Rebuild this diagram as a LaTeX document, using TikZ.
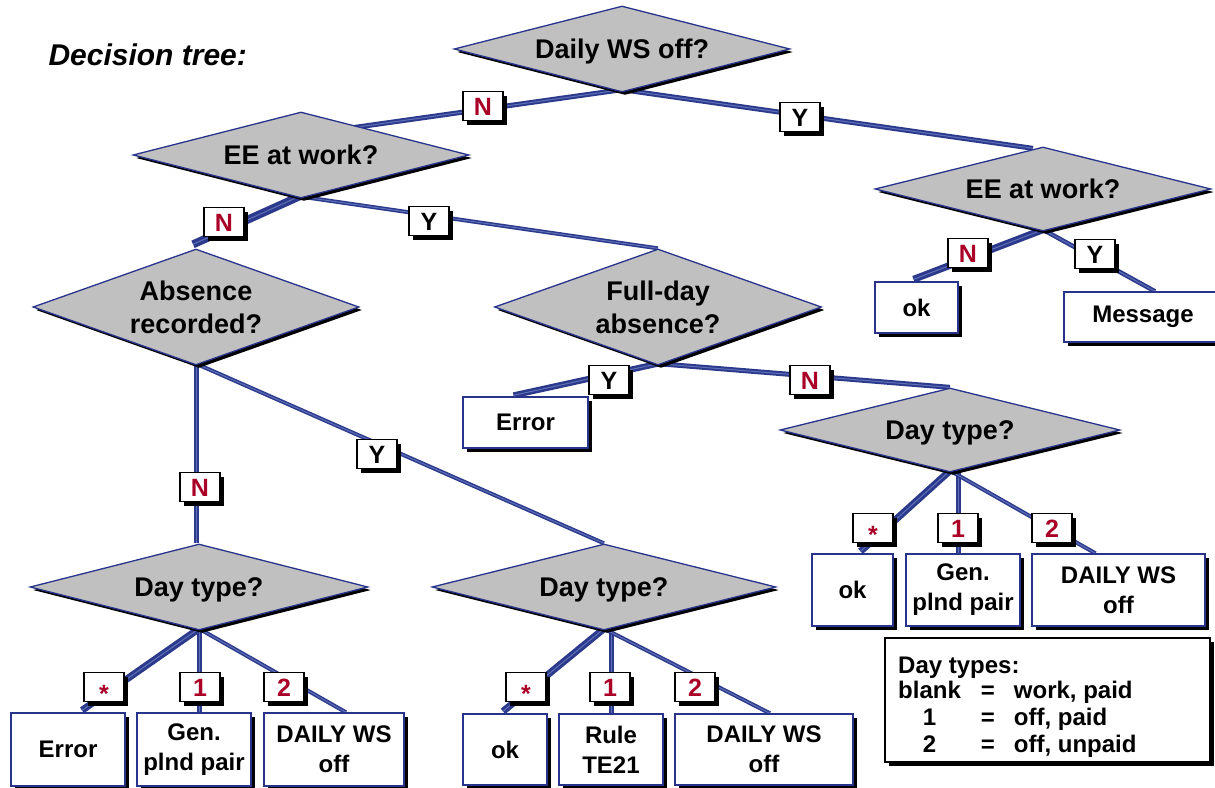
\documentclass[tikz,border=0pt]{standalone}
\usepackage{fontspec}
\setmainfont{Liberation Sans}
\usetikzlibrary{shapes.geometric,shadows,calc}

\definecolor{pipeblue}{RGB}{44,58,140}
\definecolor{pipelight}{RGB}{96,112,186}
\definecolor{edgeblue}{RGB}{40,52,140}
\definecolor{qgray}{RGB}{192,192,192}
\definecolor{labred}{RGB}{170,0,40}

\pgfdeclarelayer{bg}
\pgfsetlayers{bg,main}

\tikzset{
  shade4/.style={drop shadow={shadow xshift=4pt,shadow yshift=-4pt,fill=black,opacity=1}},
  question/.style={diamond,aspect=3.5,inner sep=0pt,fill=qgray,draw=edgeblue,line width=1.3pt,
    drop shadow={shadow xshift=3pt,shadow yshift=-3pt,fill=black,opacity=1},
    text depth=0pt,font=\bfseries\fontsize{27}{33}\selectfont,align=center},
  leaf/.style={rectangle,inner sep=0pt,fill=white,draw=edgeblue,line width=1.3pt,shade4,
    font=\bfseries\fontsize{24}{30}\selectfont,align=center},
  answer/.style={rectangle,inner sep=0pt,minimum width=40pt,minimum height=29pt,
    text height=18pt,text depth=0pt,fill=white,draw=black,line width=1.3pt,shade4,
    font=\bfseries\fontsize{25}{25}\selectfont},
  nolab/.style={answer,text=labred},
  yeslab/.style={answer,text=black},
  pipe/.style={draw=pipeblue,line width=#1pt,postaction={draw=pipelight,line width=1pt}},
}

\newcommand{\anystar}{\raisebox{-6pt}{*}}

\begin{document}
\begin{tikzpicture}[x=1pt,y=-1pt]
\useasboundingbox (0,0) rectangle (1215,787);

% title
\node[anchor=base west,font=\bfseries\itshape\fontsize{30}{30}\selectfont] (title) at (45,65) {Decision tree:};

% questions
\node[question,minimum width=336pt,minimum height=86pt] (d0) at (622,49) {Daily WS off?};
\node[question,minimum width=336pt,minimum height=86pt] (d1) at (301,155) {EE at work?};
\node[question,minimum width=336pt,minimum height=84pt] (d2) at (1043,189) {EE at work?};
\node[question,aspect=2.5,minimum width=326pt,minimum height=116pt] (d3) at (196,307) {Absence\\recorded?};
\node[question,aspect=2.5,minimum width=327pt,minimum height=116pt] (d4) at (658,307) {Full-day\\absence?};
\node[question,minimum width=340pt,minimum height=84pt] (d5) at (950,430) {Day type?};
\node[question,minimum width=338pt,minimum height=86pt] (d6) at (199,587) {Day type?};
\node[question,minimum width=344pt,minimum height=86pt] (d7) at (604,587) {Day type?};

% outcomes
\node[leaf,minimum width=83pt,minimum height=51pt] (okR) at (916.5,307.5) {ok};
\node[leaf,minimum width=158pt,minimum height=50pt] (msg) at (1143,317) {Message};
\node[leaf,minimum width=125pt,minimum height=51pt] (errM) at (525.5,422.5) {Error};
\node[leaf,minimum width=81pt,minimum height=72pt] (okD) at (852.5,590) {ok};
\node[leaf,minimum width=114pt,minimum height=72pt] (genD) at (963,590) {Gen.\\plnd pair};
\node[leaf,minimum width=173pt,minimum height=72pt] (dailyD) at (1118.5,590) {DAILY WS\\off};
\node[leaf,minimum width=114pt,minimum height=73pt] (errL) at (68,749.5) {Error};
\node[leaf,minimum width=114pt,minimum height=73pt] (genL) at (194,749.5) {Gen.\\plnd pair};
\node[leaf,minimum width=140pt,minimum height=73pt] (dailyL) at (334,749.5) {DAILY WS\\off};
\node[leaf,minimum width=84pt,minimum height=71pt] (okM) at (505,749.5) {ok};
\node[leaf,minimum width=104pt,minimum height=71pt] (ruleM) at (611,749.5) {Rule\\TE21};
\node[leaf,minimum width=178pt,minimum height=71pt] (dailyM) at (764,749.5) {DAILY WS\\off};

% legend
\node[rectangle,draw=black,line width=1.3pt,fill=white,shade4,minimum width=325pt,
  minimum height=124pt,inner sep=0pt] (key) at (1047.5,700) {};
\node[anchor=base west,inner sep=0pt,font=\bfseries\fontsize{24}{27}\selectfont] (keytext) at (898,673)
  {\begin{tabular}[t]{@{}c@{\hspace{20pt}}c@{\hspace{19pt}}l@{}}
   \multicolumn{3}{@{}l}{Day types:}\\[-2pt]
   blank & = & work, paid\\
   1 & = & off, paid\\
   2 & = & off, unpaid
   \end{tabular}};

% branch labels
\node[nolab] (lN1) at (483,106) {N};
\node[yeslab] (lY1) at (800,117) {Y};
\node[nolab] (lN2) at (224,222) {N};
\node[yeslab] (lY2) at (429,221) {Y};
\node[nolab] (lN3) at (968,253) {N};
\node[yeslab] (lY3) at (1095,254) {Y};
\node[yeslab] (lY4) at (609,380) {Y};
\node[nolab] (lN4) at (810,380) {N};
\node[nolab] (lN5) at (200,487) {N};
\node[yeslab] (lY5) at (377,454) {Y};
\node[nolab] (lSa) at (104,687) {\anystar};
\node[nolab] (l1a) at (200,687) {1};
\node[nolab] (l2a) at (284,687) {2};
\node[nolab] (lSb) at (526,687) {\anystar};
\node[nolab] (l1b) at (610,687) {1};
\node[nolab] (l2b) at (695,687) {2};
\node[nolab] (lSc) at (873,528) {\anystar};
\node[nolab] (l1c) at (958,528) {1};
\node[nolab] (l2c) at (1052,528) {2};

% connectors
\begin{pgfonlayer}{bg}
\draw[pipe=5] ($(d0.south)+(0,-3)$) -- ($(d1.center)+(0,-20)$);
\draw[pipe=5] ($(d0.south)+(0,-3)$) -- ($(d2.north)+(-10,2)$);
\draw[pipe=8] ($(d1.south)+(0,-3)$) -- ($(d3.north)+(-3,-4)$);
\draw[pipe=4] ($(d1.south)+(0,-2)$) -- (d4.north);
\draw[pipe=7] ($(d2.south)+(0,-2)$) -- ($(okR.north)+(-3,-2)$);
\draw[pipe=4.5] ($(d2.south)+(0,-2)$) -- ($(msg.north)+(12,0)$);
\draw[pipe=6] ($(d4.south)+(0,-2)$) -- ($(errM.north)+(-12,-1)$);
\draw[pipe=5] ($(d4.south)+(0,-2)$) -- (d5.north);
\draw[pipe=5] ($(d3.south)+(0,-2)$) -- (d3.south |- d6.north);
\draw[pipe=4] ($(d3.south)+(0,-2)$) -- (d7.north);
\draw[pipe=7] ($(d6.south)+(0,-2)$) -- ($(errL.north)+(14,-2)$);
\draw[pipe=5] ($(d6.south)+(0,-2)$) -- (d6.south |- genL.north);
\draw[pipe=4] ($(d6.south)+(0,-2)$) -- ($(dailyL.north)+(12,0)$);
\draw[pipe=7] ($(d7.south)+(0,-2)$) -- ($(okM.north)+(-2,-2)$);
\draw[pipe=5] ($(ruleM.north |- d7.south)+(0,-2)$) -- (ruleM.north);
\draw[pipe=4] ($(d7.south)+(0,-2)$) -- ($(dailyM.north)+(6,0)$);
\draw[pipe=7] ($(d5.south)+(0,-2)$) -- ($(okD.north)+(8,-2)$);
\draw[pipe=5] ($(d5.south)+(8,-2)$) -- ($(genD.north)+(-5,0)$);
\draw[pipe=4] ($(d5.south)+(0,-2)$) -- ($(dailyD.north)+(-23,0)$);
\end{pgfonlayer}
\end{tikzpicture}
\end{document}
